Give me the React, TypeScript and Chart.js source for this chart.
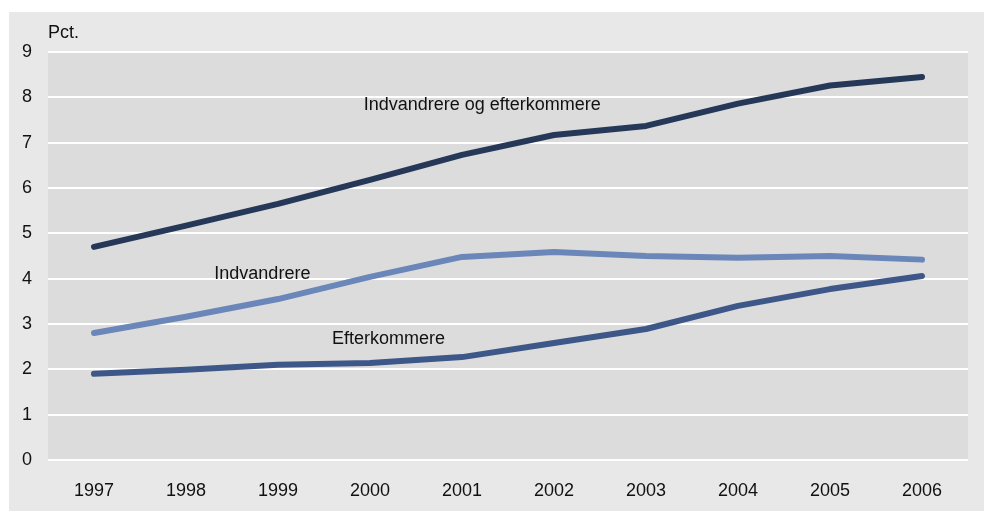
import React, { useEffect, useRef } from "react";
import { Chart, registerables } from "chart.js";

Chart.register(...registerables);

const years = ["1997", "1998", "1999", "2000", "2001", "2002", "2003", "2004", "2005", "2006"];
const total = [4.7, 5.17, 5.65, 6.18, 6.73, 7.17, 7.37, 7.86, 8.26, 8.45];
const immigrants = [2.8, 3.16, 3.55, 4.04, 4.48, 4.59, 4.5, 4.46, 4.5, 4.42];
const descendants = [1.9, 1.99, 2.1, 2.14, 2.27, 2.58, 2.89, 3.4, 3.77, 4.06];
const seriesNames = ["Indvandrere og efterkommere", "Indvandrere", "Efterkommere"];
// label anchors in data units: [category index, value]
const labelAnchors: [number, number][] = [[4.22, 7.84], [1.83, 4.1], [3.2, 2.67]];
const yTicks = [0, 1, 2, 3, 4, 5, 6, 7, 8, 9];
const unitLabel = "Pct.";

const FONT = "'Liberation Sans Narrow', 'Liberation Sans', sans-serif";

export default function App() {
  const ref = useRef<HTMLCanvasElement>(null);
  useEffect(() => {
    if (!ref.current) return;
    const bgPlugin = {
      id: "bg",
      beforeDraw(chart: any) {
        const { ctx, chartArea, width, height } = chart;
        ctx.save();
        ctx.fillStyle = "#ffffff";
        ctx.fillRect(0, 0, width, height);
        ctx.fillStyle = "#e8e8e8";
        ctx.fillRect(9, 12, width - 9, height - 14);
        ctx.fillStyle = "#dcdcdc";
        ctx.fillRect(chartArea.left, chartArea.top, chartArea.right - chartArea.left, chartArea.bottom - chartArea.top);
        ctx.restore();
      },
      afterDatasetsDraw(chart: any) {
        const { ctx, chartArea, scales } = chart;
        ctx.save();
        ctx.fillStyle = "#111111";
        ctx.font = `18px ${FONT}`;
        ctx.textAlign = "center";
        ctx.textBaseline = "middle";
        seriesNames.forEach((n, i) => {
          const [xi, yv] = labelAnchors[i];
          ctx.fillText(n, scales.x.getPixelForValue(xi), scales.y.getPixelForValue(yv));
        });
        ctx.textAlign = "left";
        ctx.textBaseline = "alphabetic";
        ctx.fillText(unitLabel, chartArea.left, chartArea.top - 14);
        ctx.restore();
      },
    };
    const mk = (label: string, data: number[], color: string) => ({
      label,
      data,
      borderColor: color,
      backgroundColor: color,
      borderWidth: 6,
      pointRadius: 0,
      tension: 0,
      borderCapStyle: "round" as const,
      borderJoinStyle: "round" as const,
    });
    const chart = new Chart(ref.current, {
      type: "line",
      data: {
        labels: years,
        datasets: [
          mk(seriesNames[0], total, "#263858"),
          mk(seriesNames[1], immigrants, "#6b87b9"),
          mk(seriesNames[2], descendants, "#3e5789"),
        ],
      },
      options: {
        animation: false,
        responsive: false,
        layout: { padding: { top: 52, right: 16, left: 0, bottom: 0 } },
        plugins: { legend: { display: false }, tooltip: { enabled: false } },
        scales: {
          x: {
            offset: true,
            grid: { display: false, drawTicks: false },
            border: { display: false },
            ticks: { color: "#111", font: { family: FONT, size: 18 }, padding: 20, maxRotation: 0 },
            afterFit: (s: any) => { s.height = 53; },
          },
          y: {
            min: 0,
            max: 9,
            afterBuildTicks: (s: any) => { s.ticks = yTicks.map((v) => ({ value: v })); },
            grid: { color: "#ffffff", lineWidth: 2, drawTicks: false },
            border: { display: false },
            ticks: { color: "#111", font: { family: FONT, size: 18 }, padding: 16 },
            afterFit: (s: any) => { s.width = 48; },
          },
        },
      },
      plugins: [bgPlugin],
    });
    return () => chart.destroy();
  }, []);
  return (
    <div style={{ position: "absolute", left: 0, top: 0, width: 984, height: 513 }}>
      <canvas ref={ref} width={984} height={513} style={{ display: "block" }} />
    </div>
  );
}
